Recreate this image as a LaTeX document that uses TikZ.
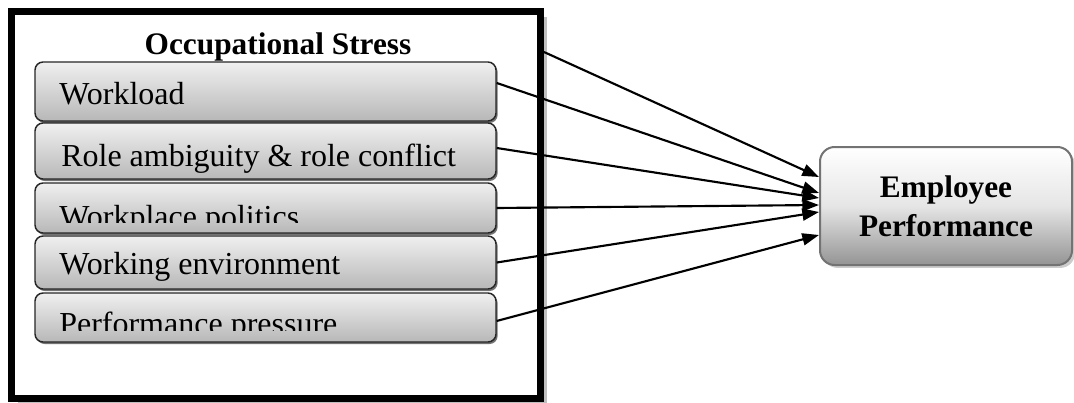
\documentclass[tikz,border=0pt]{standalone}
\usepackage{fontspec}
\setmainfont{Liberation Serif}
\usepackage{tikz}
\usetikzlibrary{arrows.meta}
\usetikzlibrary{positioning, shadows}
\tikzset{
stress frame/.style = { rectangle, draw = black, line width = 5.25pt, fill = white, minimum width = 396.75pt, minimum height = 290.25pt, drop shadow = {shadow xshift = 4.5pt, shadow yshift = -4pt, fill = black!25, opacity = 1} },
factor/.style = { rectangle, draw = black!85, line width = 1.1pt, rounded corners = 6pt, top color = black!6, bottom color = black!28, minimum width = 345.75pt, drop shadow = {shadow xshift = 1.2pt, shadow yshift = -1.5pt, fill = black!55, opacity = 1} },
factor text/.style = { anchor = base west, inner sep = 0pt, font = \fontsize{24}{28}\selectfont },
heading/.style = { anchor = base, inner sep = 0pt, font = \bfseries\fontsize{23.5}{28}\selectfont },
outcome/.style = { rectangle, draw = black!55, line width = 1.5pt, rounded corners = 11pt, top color = white, bottom color = black!42, middle color = black!10, minimum width = 189pt, minimum height = 88.5pt, align = center, font = \bfseries\fontsize{23.5}{29}\selectfont, drop shadow = {shadow xshift = 2.2pt, shadow yshift = -2.2pt, fill = black!20, opacity = 1} },
link/.style = { line width = 1.6pt, -{Triangle[length = 12.5pt, width = 9pt]} },
}

\begin{document}
\begin{tikzpicture}[x = 0.75pt, y = -0.75pt]
    \useasboundingbox (0, 0) rectangle (1074, 403);
    \node[stress frame] (stress) at (276, 205) {};
    \node[heading] (title) at (278, 55) {Occupational Stress};
    \node[factor, minimum height = 44.25pt] (workload) at (265.5, 91.5) {};
    \node[factor, minimum height = 42pt] (role) at (265.5, 151) {};
    \node[factor, minimum height = 37.5pt] (politics) at (265.5, 208) {};
    \node[factor, minimum height = 39.75pt] (environment) at (265.5, 262.5) {};
    \node[factor, minimum height = 36.75pt] (pressure) at (265.5, 317.5) {};
    \node[factor text] (workload text) at (59, 104) {Workload};
    \node[factor text] (role text) at (61, 166) {Role ambiguity \& role conflict};
    \begin{scope}
        \clip (35, 183) rectangle (497, 222);
        \node[factor text] (politics text) at (59, 227) {Workplace politics};
    \end{scope}
    \node[factor text] (environment text) at (59, 274) {Working environment};
    \begin{scope}
        \clip (35, 293) rectangle (497, 330);
        \node[factor text] (pressure text) at (59, 334) {Performance pressure};
    \end{scope}
    \node[outcome] (performance) at (946, 206) {Employee\\Performance};
    \draw[link] ([yshift = -33pt]stress.north east) -- ([yshift = 21.75pt]performance.west);
    \draw[link] ([yshift = 6.4pt]workload.east) -- ([yshift = 9.75pt]performance.west);
    \draw[link] ([yshift = 2.25pt]role.east) -- ([yshift = 6pt]performance.west);
    \draw[link] (politics.east) -- ([yshift = 0.75pt]performance.west);
    \draw[link] (environment.east) -- ([yshift = -4.5pt]performance.west);
    \draw[link] ([yshift = -2.6pt]pressure.east) -- ([yshift = -21.75pt]performance.west);
\end{tikzpicture}
\end{document}
